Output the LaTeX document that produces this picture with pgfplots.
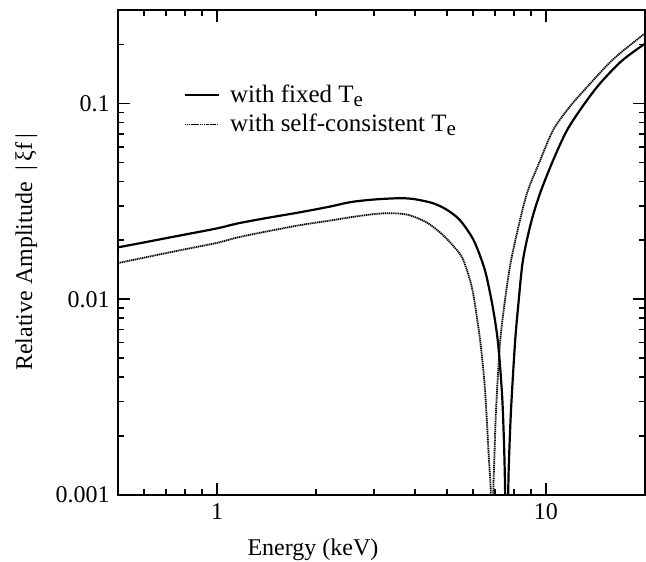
\documentclass[border=0pt]{standalone}
\usepackage{fontspec}
\setmainfont{Liberation Serif}
\usepackage{pgfplots}
\pgfplotsset{compat=1.18}
\newcommand{\Te}{T\raisebox{-0.38ex}{\fontsize{10.5pt}{11pt}\selectfont e}}
\begin{document}
\fontsize{12pt}{14pt}\selectfont
\begin{tikzpicture}
\useasboundingbox (-59pt,-33pt) rectangle (264pt,247.5pt);
\begin{axis}[
  xmode=log, ymode=log,
  scale only axis, width=263.5pt, height=242.5pt,
  xmin=0.5, xmax=20, ymin=0.001, ymax=0.3,
  xtick={1,10}, xticklabels={1,10},
  ytick={0.001,0.01,0.1}, yticklabels={0.001,0.01,0.1},
  minor xtick={0.6,0.7,0.8,0.9,2,3,4,5,6,7,8,9},
  minor ytick={0.002,0.003,0.004,0.005,0.006,0.007,0.008,0.009,0.02,0.03,0.04,0.05,0.06,0.07,0.08,0.09,0.2},
  /pgf/number format/assume math mode=true,
  tick align=inside, major tick length=6pt, minor tick length=3pt,
  every tick/.style={black, line width=0.8pt},
  axis line style={line width=0.9pt},
  xlabel={Energy (keV)},
  ylabel={Relative Amplitude \ |\,ξf\,|},
  xlabel style={at={(axis description cs:0.37,-0.112)}, anchor=center},
  ylabel style={at={(axis description cs:-0.174,0.5)}, anchor=center, rotate=0},
  legend style={draw=none, fill=none, font=\fontsize{12.5pt}{15pt}\selectfont, at={(axis description cs:0.124,0.857)}, anchor=north west, inner sep=0pt, row sep=-1pt, column sep=2.5pt, nodes={inner sep=2.5pt}},
  legend cell align=left,
]
\addplot[black, line width=1.1pt, smooth, tension=0.5] coordinates {
(0.5,0.0184) (0.6,0.0195) (0.7,0.0205) (0.8,0.0214) (1.0,0.0230) (1.158,0.0244)
(1.4,0.0259) (1.788,0.0278) (2.2,0.0297) (2.537,0.0313) (3.0,0.0323) (3.6,0.0328)
(4.0,0.0324) (4.54,0.0309) (5.0,0.0286) (5.48,0.0253) (6.0,0.0203) (6.377,0.0158)
(6.6,0.0130) (6.9,0.0090) (7.147,0.0060) (7.35,0.0033) (7.45,0.0019) (7.505,0.00115)
(7.56,0.00050) (7.60,0.00020) (7.64,0.00050) (7.68,0.00106) (7.72,0.00151)
(7.83,0.00272) (8.05,0.00597) (8.25,0.0096) (8.51,0.0158) (9.0,0.0245) (9.59,0.0347)
(10.5,0.0510) (11.58,0.0728) (13.0,0.0980) (14.6,0.1265) (17.0,0.1650) (20.0,0.2020)
};
\addlegendentry{with fixed \Te}
\addplot[black, line width=0.9pt, dash pattern=on 0.6pt off 0.35pt, smooth, tension=0.5] coordinates {
(0.5,0.0153) (0.6,0.0163) (0.7,0.0172) (0.8,0.0180) (1.0,0.0194) (1.158,0.0207)
(1.4,0.0221) (1.788,0.0239) (2.2,0.0252) (2.537,0.0262) (3.0,0.0272) (3.36,0.0275)
(3.8,0.0270) (4.35,0.0246) (4.9,0.0210) (5.48,0.0170) (5.675,0.0150) (5.87,0.0126)
(6.0,0.0108) (6.16,0.0082) (6.35,0.0056) (6.53,0.00340) (6.71,0.00151) (6.79,0.00106)
(6.83,0.0005) (6.86,0.0002) (6.89,0.0005) (6.92,0.00106) (6.965,0.00151) (7.05,0.00272)
(7.25,0.00597) (7.5,0.0098) (7.8,0.0152) (8.2,0.0225) (8.75,0.0347) (9.5,0.0490)
(10.5,0.0728) (11.8,0.0960) (13.3,0.1207) (16.0,0.1680) (20.0,0.2280)
};
\addlegendentry{with self-consistent \Te}
\end{axis}
\end{tikzpicture}
\end{document}
